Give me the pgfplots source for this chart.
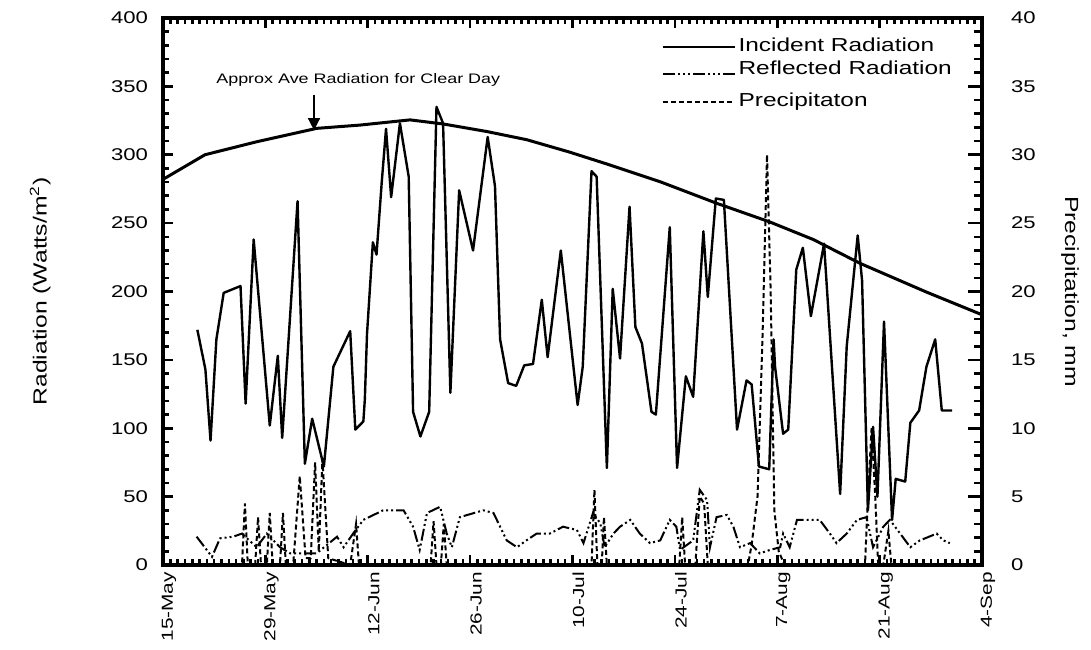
\documentclass[border=0pt]{standalone}
\usepackage{fontspec}
\setmainfont{Liberation Sans}[FakeStretch=1.3]
\usepackage{pgfplots}
\pgfplotsset{compat=1.18}
\usetikzlibrary{arrows.meta}
\pgfplotsset{
  incstyle/.style={black, line width=1.2pt, line join=round},
  refstyle/.style={black, line width=1pt, dash pattern=on 6pt off 1.5pt on 1pt off 1.5pt on 1pt off 1.5pt on 1pt off 1.5pt},
  prestyle/.style={black, line width=1pt, dash pattern=on 2.5pt off 1.5pt},
}
\begin{document}
\begin{tikzpicture}
\begin{axis}[name=main, at={(0,0)}, anchor=south west,
  scale only axis, width=409.5pt, height=273.5pt,
  xmin=0, xmax=112, ymin=0, ymax=400,
  xtick={0,14,...,112},
  xticklabels={15-May,29-May,12-Jun,26-Jun,10-Jul,24-Jul,7-Aug,21-Aug,4-Sep},
  ytick={0,50,...,400},
  xtick pos=both, ytick pos=left,
  major tick length=0pt, minor tick length=0pt,
  axis line style={line width=1.6pt},
  /pgf/number format/assume math mode=true,
  yticklabel style={font=\fontsize{8.5}{10}\selectfont, xshift=-4pt},
  xticklabel style={font=\fontsize{8}{10}\selectfont, rotate=90, anchor=east, yshift=-3pt},
  ylabel={Radiation (Watts/m\textsuperscript{2})},
  ylabel style={at={(axis description cs:-0.150,0.5)}, anchor=center, font=\fontsize{9.5}{11}\selectfont},
]
% clear-day curve
\addplot[black, line width=1.5pt] coordinates {
(0,282) (5.74,300) (12.81,309.5) (21.02,319.3) (26.94,321.7) (33.78,325.5)
(38.33,322.5) (44.27,317) (49.74,311) (55.56,302) (61.13,292.5) (67.97,280.3)
(75.72,264.5) (82.91,251) (88.93,238) (95.32,220.6) (104.44,199.5) (112,183)
};
% incident radiation
\addplot[incstyle] coordinates {
(4.7,172) (5.8,143) (6.5,91) (7.3,165) (8.3,199) (10.6,204) (11.3,118) (12.4,238)
(14.6,102) (15.7,153) (16.3,93) (18.4,266) (19.4,74) (20.4,107) (22.0,72) (23.3,145)
(25.6,171) (26.3,99) (27.4,105) (27.6,121) (27.9,169) (28.7,236) (29.2,227) (29.9,279)
(30.5,319) (31.2,269) (32.4,323) (33.6,284) (34.2,112) (35.2,94) (36.4,112) (37.4,335)
(38.3,323) (39.3,126) (40.5,274) (42.4,230) (44.4,313) (45.4,277) (46.1,165) (47.2,133)
(48.3,131) (49.4,146) (50.6,147) (51.8,194) (52.6,152) (54.4,230) (56.7,117) (57.4,145)
(58.6,288) (59.3,284) (60.7,71) (61.5,202) (62.5,151) (63.8,262) (64.6,174) (65.5,162)
(66.8,112) (67.4,110) (69.3,247) (70.3,71) (71.5,138) (72.5,123) (73.9,244) (74.5,196)
(75.6,268) (76.7,267) (78.5,99) (79.8,135) (80.5,132) (81.5,72) (82.9,70) (83.5,165)
(83.7,145) (84.8,96) (85.5,99) (86.6,216) (87.5,232) (88.6,182) (90.4,235) (92.6,52)
(93.5,160) (95.0,241) (95.6,208) (96.4,40) (97.1,101) (97.7,50) (98.6,178) (99.7,33)
(100.2,63) (101.5,61) (102.2,104) (103.4,113) (104.4,145) (105.6,165) (106.5,113) (107.9,113)
};
% reflected radiation
\addplot[refstyle] coordinates {
(4.6,20.7) (6.7,6) (7.8,19.5) (9.6,20.7) (10.8,23) (12.8,13) (14.2,23) (16.0,13)
(17.4,8.5) (21.0,8.5) (23.8,20.7) (24.7,13) (26.0,23) (27.4,33) (30.1,40) (32.9,40)
(34.2,28) (35.1,11) (36.1,38) (37.9,42.6) (38.8,23) (39.5,13) (40.6,35) (43.8,40)
(45.2,38) (47.0,18) (48.4,13) (49.7,18) (51.1,23) (52.9,23) (54.7,28) (56.6,25.6)
(57.5,16) (58.8,38) (59.8,30.5) (60.4,13) (61.6,23) (62.5,28) (63.9,33) (65.2,23)
(66.6,16) (68.0,18) (69.3,33) (70.2,28) (70.7,11) (72.5,18) (73.4,55) (74.4,47.5)
(74.8,13) (75.7,35) (77.1,36.6) (78.0,28) (78.9,13) (80.3,16) (81.6,8.5) (83.0,11)
(84.4,13) (84.8,23) (85.7,13) (86.7,33) (88.0,33) (89.8,33) (91.2,23) (92.1,16)
(93.5,23) (94.9,33) (96.2,35) (97.1,13) (98.5,28) (99.4,33) (100.8,23) (102.2,13)
(103.5,18) (104.9,21) (105.8,23) (106.7,18) (107.6,16)
};
\draw[-{Triangle[length=6pt,width=6pt]}, line width=0.8pt] (axis cs:20.65,344) -- (axis cs:20.65,318);
\node[font=\fontsize{6.9}{8}\selectfont] at (axis cs:26.7,355) {Approx Ave Radiation for Clear Day};
\end{axis}
\begin{axis}[at={(0,0)}, anchor=south west,
  scale only axis, width=409.5pt, height=273.5pt,
  xmin=0, xmax=112, ymin=0, ymax=40,
  axis y line*=right, axis x line=none,
  ytick={0,5,...,40},
  major tick length=0pt, minor tick length=0pt,
  y axis line style={line width=1.6pt},
  /pgf/number format/assume math mode=true,
  yticklabel style={font=\fontsize{8.5}{10}\selectfont, xshift=11pt},
  ylabel={Precipitation, mm},
  ylabel style={at={(axis description cs:1.1075,0.5)}, anchor=center, rotate=180, font=\fontsize{9.5}{11}\selectfont},
  legend image code/.code={\draw[#1] (0pt,0pt) -- (36pt,0pt);},
  legend style={at={(rel axis cs:0.609,0.968)}, anchor=north west, draw=none, fill=none,
    inner sep=0pt, row sep=0.5pt, font=\fontsize{9.4}{11}\selectfont,
    nodes={inner sep=1pt, text height=7pt, text depth=2pt}},
  legend cell align=left,
]
\addlegendimage{incstyle}
\addlegendentry{Incident Radiation}
\addlegendimage{refstyle}
\addlegendentry[text depth=6.5pt]{Reflected Radiation}
\addplot[prestyle] coordinates {
(4.6,0) (10.8,0) (11.2,4.5) (11.6,0) (12.6,0) (13.0,3.5) (13.4,0) (14.2,0) (14.6,3.8)
(15.0,0) (16.0,0) (16.4,3.8) (16.8,0) (17.8,0) (18.7,6.5) (19.5,0.5) (20.2,0.5) (20.8,7.5)
(21.3,1) (21.8,7.7) (22.6,0.5) (25.6,0) (26.4,3) (26.8,0) (36.6,0) (37.0,3.2) (37.4,0)
(38.0,0) (38.4,3.0) (38.8,0) (58.6,0) (59.0,5.5) (59.4,0) (60.0,0) (60.3,3.5) (60.7,0)
(70.6,0) (71.0,3.5) (71.4,0) (72.8,0) (73.4,5) (74,4.5) (74.5,0) (80.0,0) (80.5,1.5)
(81.3,5) (82.0,17) (82.6,30) (83.1,20) (83.6,4) (84.2,1) (85,0) (96.0,0) (96.4,5)
(96.9,10) (97.4,5) (97.8,0) (98.5,0) (99.2,2.5) (99.6,0) (108,0)
};
\addlegendentry{Precipitaton}
\end{axis}
% tick marks along the frame (axis box spans (0,0) to (409.5pt,273.5pt))
\begin{scope}[line width=1.3pt, line cap=butt, black]
\foreach \d in {0,...,112} {
  \pgfmathsetmacro\tl{mod(\d,14)==0 ? 5 : 3.2}
  \draw ({\d*3.65625pt},0pt) -- ({\d*3.65625pt},\tl pt);
  \draw ({\d*3.65625pt},273.5pt) -- ({\d*3.65625pt},273.5pt-\tl pt);
}
\foreach \v in {0,...,40} {
  \pgfmathsetmacro\tl{mod(\v,5)==0 ? 5 : 3.2}
  \pgfmathsetmacro\tr{mod(\v,5)==0 ? 7 : 4}
  \draw (0pt,{\v*6.8375pt}) -- ({\tl pt},{\v*6.8375pt});
  \draw (409.5pt,{\v*6.8375pt}) -- ({409.5pt-\tr pt},{\v*6.8375pt});
}
\end{scope}
\pgfresetboundingbox
\path[use as bounding box] (-81.5pt,-42pt) rectangle (464pt,282.5pt);
\end{tikzpicture}
\end{document}
